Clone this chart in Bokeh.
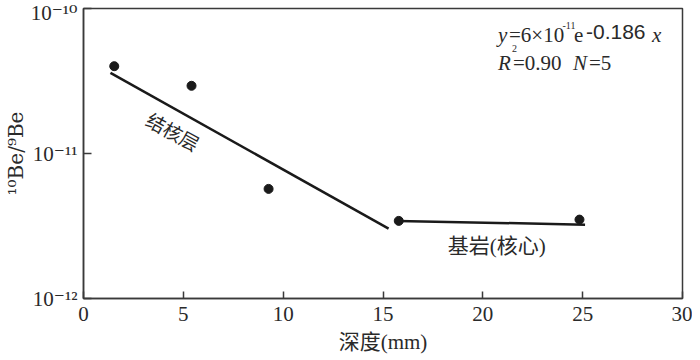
from bokeh.plotting import figure
from bokeh.models import Label, FixedTicker, Range1d
from bokeh.embed import file_html
from bokeh.resources import INLINE

# ---- data ----
depth = [1.54, 5.41, 9.27, 15.79, 24.84]
be_ratio = [4.0e-11, 2.93e-11, 5.7e-12, 3.43e-12, 3.5e-12]
nodule_fit_x = [1.35, 15.28]
nodule_fit_y = [3.6e-11, 3.03e-12]
bedrock_fit_x = [15.74, 25.12]
bedrock_fit_y = [3.43e-12, 3.23e-12]
x_ticks = [0, 5, 10, 15, 20, 25, 30]
y_ticks = [1e-12, 1e-11, 1e-10]
y_tick_labels = ["10⁻¹²", "10⁻¹¹", "10⁻¹⁰"]

SERIF = "'Liberation Serif', 'Times New Roman', 'DejaVu Serif', serif"
SERIF_SUP = "'DejaVu Serif', serif"
SANS = "'Liberation Sans', Arial, sans-serif"
CJK = "'Liberation Serif', 'Times New Roman', 'Noto Sans CJK SC', serif"
INK = "#1a1a1a"
TXT = "#2a2a2a"
FRAME = "#3a3a3a"

p = figure(width=692, height=356, x_range=Range1d(0, 30), y_range=Range1d(1e-12, 1e-10),
           y_axis_type="log", output_backend="svg", toolbar_location=None,
           min_border_left=72, min_border_right=10, min_border_top=8, min_border_bottom=10,
           background_fill_color="white", border_fill_color="white")
p.outline_line_color = FRAME
p.outline_line_width = 1.5
p.grid.visible = False

p.xaxis.ticker = FixedTicker(ticks=x_ticks, minor_ticks=[])
p.yaxis.ticker = FixedTicker(ticks=y_ticks, minor_ticks=[])
p.yaxis.major_label_overrides = {t: s for t, s in zip(y_ticks, y_tick_labels)}

for ax in (p.xaxis, p.yaxis):
    ax.axis_line_color = FRAME
    ax.axis_line_width = 1.5
    ax.major_tick_line_color = FRAME
    ax.major_tick_line_width = 1.5
    ax.major_tick_out = 0
    ax.minor_tick_line_color = None
    ax.major_label_text_font = SERIF
    ax.major_label_text_font_size = "21px"
    ax.major_label_text_color = TXT
    ax.axis_label_text_font_style = "normal"
    ax.axis_label_text_color = TXT

p.xaxis.major_tick_in = 7
p.yaxis.major_tick_in = 8
p.xaxis.major_label_standoff = 8
p.yaxis.major_label_standoff = 6
p.xaxis.axis_label = "深度(mm)"
p.xaxis.axis_label_text_font = CJK
p.xaxis.axis_label_text_font_size = "21px"
p.xaxis.axis_label_standoff = 6
p.yaxis.axis_label = "¹⁰Be/⁹Be"
p.yaxis.axis_label_text_font = SERIF_SUP
p.yaxis.axis_label_text_font_size = "20px"
p.yaxis.axis_label_standoff = 0

# fitted lines and points
p.line(nodule_fit_x, nodule_fit_y, line_color=INK, line_width=2.5)
p.line(bedrock_fit_x, bedrock_fit_y, line_color=INK, line_width=2.5)
p.scatter(depth, be_ratio, size=9, fill_color=INK, line_color=INK)

# region labels
p.add_layout(Label(x=4.5, y=1.43e-11, text="结核层", angle=-0.5,
                   text_align="center", text_baseline="middle",
                   text_font="Noto Sans CJK SC", text_font_size="19px", text_color=TXT))
p.add_layout(Label(x=20.7, y=2.31e-12, text="基岩(核心)",
                   text_align="center", text_baseline="middle",
                   text_font=CJK, text_font_size="21px", text_color=TXT))

# equation block
EQ_X = 20.76


def eq(text, dx, base, size, style="normal", font=SERIF):
    p.add_layout(Label(x=EQ_X, y=1e-10, x_offset=dx, y_offset=-base, text=text,
                       text_font=font, text_font_size=f"{size}px", text_font_style=style,
                       text_color=TXT, text_baseline="alphabetic", text_align="left"))


eq("y", 0, 26, 21, "italic")
eq("=6×10", 11, 26, 21)
eq("-11", 64.5, 17, 10)
eq("e", 76, 26, 21)
eq("-0.186", 88, 23, 21, font=SANS)
eq("x", 154, 26, 21, "italic")

eq("R", 0, 54, 21, "italic")
eq("2", 14, 40, 10)
eq("=0.90", 15, 54, 21)
eq("N", 75, 54, 21, "italic")
eq("=5", 91, 54, 21)

open("out.html", "w", encoding="utf-8").write(file_html(p, INLINE))
